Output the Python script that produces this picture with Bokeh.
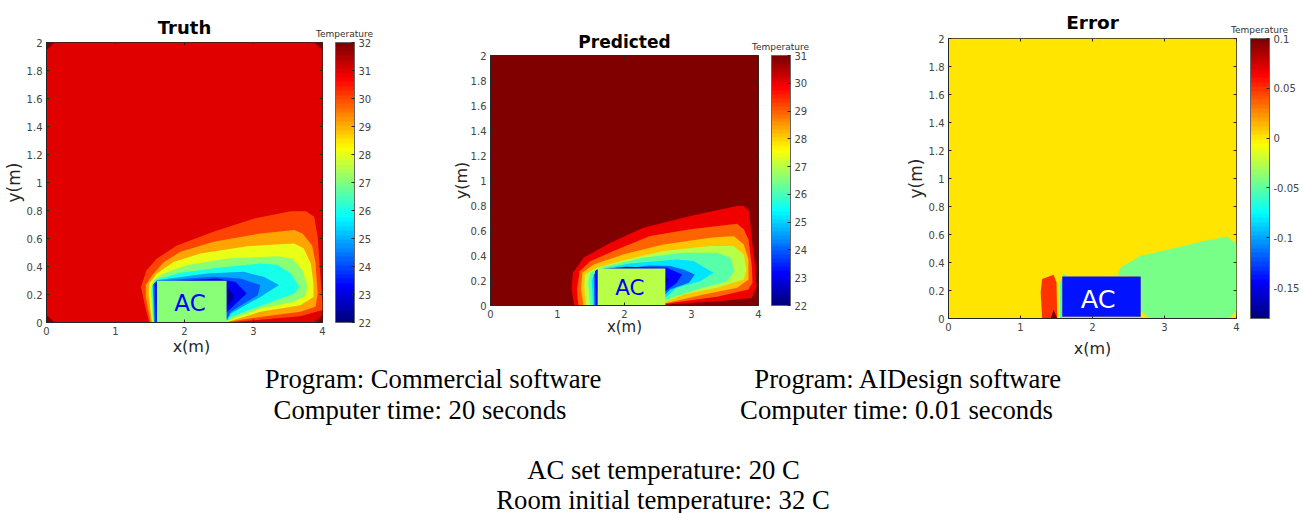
from bokeh.plotting import figure
from bokeh.embed import file_html
from bokeh.resources import INLINE
from bokeh.layouts import column, row
from bokeh.models import (ColumnDataSource, ColorBar, LinearColorMapper, LinearAxis,
                          FixedTicker, Range1d, Label)
from bokeh.core.properties import value

# ---------- data ----------
x_ticks = [0, 1, 2, 3, 4]
y_ticks = [0, 0.2, 0.4, 0.6, 0.8, 1, 1.2, 1.4, 1.6, 1.8, 2]
y_tick_labels = ["0", "0.2", "0.4", "0.6", "0.8", "1", "1.2", "1.4", "1.6", "1.8", "2"]

room_x = [0, 4, 4, 0]
room_y = [0, 0, 2, 2]

# Truth panel: filled contour bands, outermost first
truth_levels = [30.98, 31.9, 31.9, 31.9, 31.9, 30.05, 29.11, 28.02, 27.08, 25.98, 24.89, 24.1, 23.17, 22.23]
truth_xs = [
    room_x,
    [0, 0.12, 0], [4, 3.88, 4], [0, 0.12, 0], [4, 3.88, 4],
    [1.49, 1.42, 1.37, 1.45, 1.6, 1.89, 2.42, 3.01, 3.54, 3.76, 3.88, 3.93, 3.97, 4.0, 4.0, 3.68, 2.62],
    [1.51, 1.44, 1.44, 1.53, 1.70, 1.94, 2.42, 3.10, 3.59, 3.71, 3.85, 3.90, 3.93, 3.90, 3.68, 3.10, 2.64],
    [1.53, 1.48, 1.49, 1.6, 1.84, 2.23, 2.91, 3.59, 3.73, 3.83, 3.87, 3.87, 3.68, 3.10, 2.63],
    [1.54, 1.51, 1.55, 1.70, 2.04, 2.62, 3.35, 3.56, 3.71, 3.78, 3.76, 3.59, 3.10, 2.62],
    [1.55, 1.53, 1.6, 1.94, 2.52, 3.10, 3.35, 3.54, 3.66, 3.59, 3.20, 2.67, 2.62],
    [1.56, 1.54, 1.6, 2.33, 2.86, 3.15, 3.37, 3.10, 2.67, 2.62],
    [1.57, 1.55, 1.6, 2.42, 2.81, 3.10, 3.06, 2.67, 2.62],
    [1.58, 1.57, 1.6, 2.47, 2.74, 2.9, 2.72, 2.62, 1.6, 1.6],
    [2.62, 2.69, 2.72, 2.62],
]
truth_ys = [
    room_y,
    [2, 2, 1.945], [2, 2, 1.945], [0, 0, 0.055], [0, 0, 0.055],
    [0, 0.136, 0.255, 0.374, 0.457, 0.55, 0.648, 0.743, 0.795, 0.795, 0.755, 0.612, 0.326, 0.136, 0.09, 0.045, 0],
    [0, 0.183, 0.267, 0.338, 0.433, 0.505, 0.576, 0.636, 0.66, 0.636, 0.55, 0.421, 0.207, 0.112, 0.076, 0.04, 0.005],
    [0, 0.207, 0.279, 0.35, 0.433, 0.493, 0.545, 0.564, 0.529, 0.421, 0.279, 0.183, 0.124, 0.076, 0.005],
    [0, 0.231, 0.302, 0.35, 0.41, 0.457, 0.474, 0.457, 0.374, 0.267, 0.195, 0.148, 0.1, 0.012],
    [0, 0.255, 0.307, 0.355, 0.393, 0.421, 0.41, 0.35, 0.255, 0.207, 0.136, 0.04, 0.012],
    [0, 0.267, 0.302, 0.35, 0.362, 0.326, 0.267, 0.183, 0.064, 0.017],
    [0, 0.274, 0.298, 0.326, 0.314, 0.267, 0.195, 0.076, 0.029],
    [0, 0.279, 0.29, 0.314, 0.29, 0.207, 0.124, 0.076, 0.076, 0],
    [0.255, 0.207, 0.183, 0.112],
]
truth_xlabel_at = [2.10, -0.171]

# Predicted panel
pred_levels = [31.0, 29.95, 28.96, 28.09, 27.0, 26.15, 25.16, 24.04, 23.2, 22.2]
pred_xs = [
    room_x,
    [1.25, 1.21, 1.23, 1.39, 1.79, 2.28, 2.98, 3.68, 3.78, 3.86, 3.90, 3.95, 3.97, 3.90, 3.38, 2.63],
    [1.31, 1.29, 1.33, 1.49, 1.89, 2.38, 2.98, 3.68, 3.78, 3.85, 3.90, 3.91, 3.85, 3.38, 2.63],
    [1.39, 1.35, 1.37, 1.54, 1.99, 2.58, 3.28, 3.63, 3.78, 3.85, 3.85, 3.68, 3.18, 2.63],
    [1.43, 1.40, 1.41, 1.59, 2.03, 2.58, 3.28, 3.63, 3.78, 3.82, 3.78, 3.38, 2.88, 2.61],
    [1.49, 1.46, 1.49, 1.69, 2.28, 2.88, 3.38, 3.58, 3.64, 3.53, 3.08, 2.68, 2.61],
    [1.53, 1.51, 1.61, 2.08, 2.78, 3.03, 3.33, 3.13, 2.78, 2.61],
    [1.55, 1.54, 1.61, 2.38, 2.68, 2.88, 3.05, 2.96, 2.68, 2.61],
    [1.57, 1.56, 1.59, 2.03, 2.63, 2.86, 2.78, 2.61, 1.6, 1.6],
    [2.61, 2.66, 2.61],
]
pred_ys = [
    room_y,
    [0, 0.128, 0.262, 0.382, 0.503, 0.623, 0.717, 0.797, 0.797, 0.757, 0.529, 0.316, 0.155, 0.061, 0.035, 0.008],
    [0, 0.128, 0.275, 0.355, 0.449, 0.556, 0.61, 0.655, 0.61, 0.529, 0.316, 0.182, 0.128, 0.07, 0.016],
    [0, 0.128, 0.262, 0.329, 0.41, 0.489, 0.543, 0.556, 0.489, 0.369, 0.209, 0.142, 0.088, 0.021],
    [0, 0.155, 0.25, 0.302, 0.369, 0.436, 0.476, 0.476, 0.409, 0.289, 0.209, 0.142, 0.088, 0.027],
    [0, 0.182, 0.262, 0.31, 0.382, 0.422, 0.422, 0.382, 0.275, 0.195, 0.128, 0.061, 0.035],
    [0, 0.209, 0.289, 0.337, 0.369, 0.356, 0.262, 0.195, 0.142, 0.061],
    [0, 0.249, 0.275, 0.321, 0.316, 0.289, 0.249, 0.182, 0.128, 0.088],
    [0, 0.275, 0.289, 0.31, 0.302, 0.249, 0.182, 0.115, 0.115, 0],
    [0.235, 0.209, 0.168],
]

# Error panel
err_levels = [0.0012, 0.0488, 0.1, -0.06, -0.0427]
err_xs = [
    room_x,
    [1.30, 1.28, 1.30, 1.46, 1.50, 1.51],
    [1.42, 1.46, 1.51],
    [1.55, 1.55, 1.60, 1.65, 1.58, 1.58],
    [2.35, 2.39, 2.67, 2.99, 3.50, 3.87, 4.0, 4.0, 3.90, 2.79, 2.67, 2.67],
]
err_ys = [
    room_y,
    [0, 0.186, 0.282, 0.313, 0.258, 0],
    [0, 0.062, 0],
    [0, 0.258, 0.317, 0.3, 0.3, 0],
    [0.305, 0.365, 0.449, 0.484, 0.549, 0.585, 0.532, 0.055, 0, 0, 0.055, 0.3],
]

# the AC unit: left, right, bottom, top, level of its fill, label x, label y
ac_truth = [1.6, 2.61, 0.0, 0.298, 27.15, 2.08, 0.14]
ac_pred = [1.6, 2.61, 0.0, 0.297, 27.0, 2.08, 0.146]
ac_err = [1.58, 2.67, 0.012, 0.30, -0.14, 2.08, 0.14]

truth_cb_ticks = [22, 23, 24, 25, 26, 27, 28, 29, 30, 31, 32]
pred_cb_ticks = [22, 23, 24, 25, 26, 27, 28, 29, 30, 31]
err_cb_ticks = [-0.15, -0.1, -0.05, 0, 0.05, 0.1]
err_cb_labels = ["-0.15", "-0.1", "-0.05", "0", "0.05", "0.1"]


# ---------- jet colour map ----------
def jet(n=64):
    def ch(t, start):
        v = min((t - start) / 0.25, (start + 0.75 - t) / 0.25)
        return max(0.0, min(1.0, v))
    out = []
    for i in range(n):
        t = i / (n - 1)
        r, g, b = ch(t, 0.375), ch(t, 0.125), ch(t, -0.125)
        out.append("#%02x%02x%02x" % (round(r * 255), round(g * 255), round(b * 255)))
    return out


JET = jet()
FONT = "DejaVu Sans"
TICK = "#444444"


def style_axis(ax, label_size):
    ax.major_label_text_font = FONT
    ax.major_label_text_font_size = "10px"
    ax.major_label_text_color = TICK
    ax.axis_label_text_font = FONT
    ax.axis_label_text_font_size = label_size
    ax.axis_label_text_font_style = "normal"
    ax.axis_label_text_color = "#262626"
    ax.axis_line_color = "#262626"
    ax.major_tick_line_color = "#262626"
    ax.major_tick_in = 3
    ax.major_tick_out = 0
    ax.minor_tick_line_color = None
    ax.major_label_standoff = 4


def panel(title, xs, ys, levels, ac, ac_text, low, high, cb_ticks, cb_labels,
          width, left, frame_w, top, frame_h, total_h, title_size, x_label_size, y_label_size, ac_size,
          x_standoff, y_standoff, title_standoff, cb_gap, temp_dx, x_label_at=None):
    p = figure(frame_width=frame_w, frame_height=frame_h,
               x_range=Range1d(0, 4), y_range=Range1d(0, 2),
               output_backend="svg", toolbar_location=None,
               min_border_left=left, min_border_top=top,
               min_border_right=width - left - frame_w,
               min_border_bottom=total_h - top - frame_h,
               y_axis_label="y(m)")
    if x_label_at is None:
        p.xaxis.axis_label = "x(m)"
    p.grid.visible = False
    p.outline_line_color = "#262626"
    p.outline_line_width = 1
    p.title.text = title
    p.title.align = "center"
    p.title.text_font = FONT
    p.title.text_font_size = title_size
    p.title.text_font_style = "bold"
    p.title.text_color = "#000000"
    p.title.standoff = title_standoff

    mapper = LinearColorMapper(palette=JET, low=low, high=high)
    src = ColumnDataSource(dict(xs=xs, ys=ys, level=levels))
    p.patches("xs", "ys", source=src, line_color=None,
              fill_color={"field": "level", "transform": mapper})
    p.quad(left=[ac[0]], right=[ac[1]], bottom=[ac[2]], top=[ac[3]], line_color=None,
           fill_color={"value": JET[max(0, min(63, int((ac[4] - low) / (high - low) * 64)))]})
    p.text(x=[ac[5]], y=[ac[6]], text=["AC"], text_align="center",
           text_baseline="middle", text_color=ac_text, text_font=value(FONT),
           text_font_size=ac_size)

    p.xaxis.ticker = FixedTicker(ticks=x_ticks)
    p.yaxis.ticker = FixedTicker(ticks=y_ticks)
    p.yaxis.major_label_overrides = {t: s for t, s in zip(y_ticks, y_tick_labels)}
    for ax in p.xaxis:
        style_axis(ax, x_label_size)
    for ax in p.yaxis:
        style_axis(ax, y_label_size)
    p.xaxis.axis_label_standoff = x_standoff
    p.yaxis.axis_label_standoff = y_standoff

    top_ax = LinearAxis(ticker=FixedTicker(ticks=x_ticks), axis_line_color=None,
                        major_label_overrides={t: "" for t in x_ticks},
                        major_tick_in=3, major_tick_out=0, major_label_standoff=0,
                        major_tick_line_color="#262626", minor_tick_line_color=None)
    right_ax = LinearAxis(ticker=FixedTicker(ticks=y_ticks), axis_line_color=None,
                          major_label_overrides={t: "" for t in y_ticks},
                          major_tick_in=3, major_tick_out=0, major_label_standoff=0,
                          major_tick_line_color="#262626", minor_tick_line_color=None)
    p.add_layout(top_ax, "above")
    p.add_layout(right_ax, "right")

    cb = ColorBar(color_mapper=mapper, ticker=FixedTicker(ticks=cb_ticks),
                  location=(frame_w + cb_gap, 0), width=19, height=frame_h, padding=0,
                  major_label_text_font=FONT, major_label_text_font_size="10px",
                  major_label_text_color=TICK, major_tick_in=3, major_tick_line_color="#262626",
                  bar_line_color="#666666", label_standoff=4, minor_tick_line_color=None)
    if cb_labels:
        cb.major_label_overrides = {t: s for t, s in zip(cb_ticks, cb_labels)}
    p.add_layout(cb, "center")
    p.add_layout(Label(x=4 * (frame_w + temp_dx) / frame_w, y=2 * (1 + 9 / frame_h),
                       text="Temperature", text_font=FONT, text_font_size="9px",
                       text_color="#333333", text_align="center", text_baseline="middle"), "right")
    if x_label_at is not None:
        p.add_layout(Label(x=x_label_at[0], y=x_label_at[1], text="x(m)", text_font=FONT,
                           text_font_size=x_label_size, text_color="#262626",
                           text_align="center", text_baseline="middle"), "right")
    return p


H = 365
f1 = panel("Truth", truth_xs, truth_ys, truth_levels, ac_truth, "#0000ff", 22, 32, truth_cb_ticks, None,
           440, 46, 276, 42, 280, H, "18px", "16px", "17px", "23px", -1, 0, 9, 13, 22, truth_xlabel_at)
f2 = panel("Predicted", pred_xs, pred_ys, pred_levels, ac_pred, "#0000ff", 22, 31, pred_cb_ticks, None,
           455, 50, 268, 55, 250, H, "17px", "15px", "16px", "21.5px", -3, -3, 7, 13, 22)
f3 = panel("Error", err_xs, err_ys, err_levels, ac_err, "#ffffff", -0.181, 0.1, err_cb_ticks, err_cb_labels,
           408, 53, 288, 38, 280, H, "18.5px", "16px", "17px", "25.5px", 5, 0, 11, 14, 23)

t = figure(width=1303, height=148, output_backend="svg", toolbar_location=None,
           x_axis_type=None, y_axis_type=None, x_range=Range1d(0, 1303), y_range=Range1d(0, 148),
           min_border=0, outline_line_color=None)
t.grid.visible = False
captions = [
    ("Program: Commercial software", 432.5, 135),
    ("Program: AIDesign software", 908, 135),
    ("Computer time: 20 seconds", 419.5, 104),
    ("Computer time: 0.01 seconds", 896, 104),
    ("AC set temperature: 20 C", 663, 44),
    ("Room initial temperature: 32 C", 662.5, 14),
]
for s, cx, cy in captions:
    t.add_layout(Label(x=cx, y=cy, text=s, text_font="Liberation Serif", text_font_size="26.7px",
                       text_align="center", text_baseline="middle", text_color="#000000"))

page = column(row(column(f1), column(f2), column(f3), spacing=0), t, spacing=0)
open("out.html", "w").write(file_html(page, INLINE))
